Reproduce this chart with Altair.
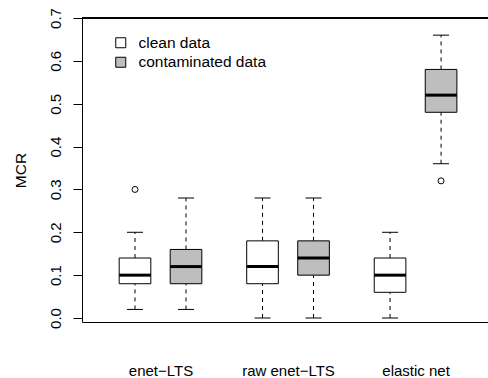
import altair as alt
import pandas as pd

# Box statistics per method and data condition (MCR)
methods = ["enet−LTS", "raw enet−LTS", "elastic net"]
conditions = ["clean data", "contaminated data"]
box_method = ["enet−LTS", "enet−LTS", "raw enet−LTS", "raw enet−LTS", "elastic net", "elastic net"]
box_condition = ["clean data", "contaminated data"] * 3
positions = [1, 2, 3.5, 4.5, 6, 7]
whisker_low = [0.02, 0.02, 0.00, 0.00, 0.00, 0.36]
q1 = [0.08, 0.08, 0.08, 0.10, 0.06, 0.48]
median = [0.10, 0.12, 0.12, 0.14, 0.10, 0.52]
q3 = [0.14, 0.16, 0.18, 0.18, 0.14, 0.58]
whisker_high = [0.20, 0.28, 0.28, 0.28, 0.20, 0.66]

outlier_pos = [1, 7]
outlier_val = [0.30, 0.32]

label_pos = [1.5, 4, 6.5]
y_ticks = [0.0, 0.1, 0.2, 0.3, 0.4, 0.5, 0.6, 0.7]

FONT = "Liberation Sans"
GRAY = "#bebebe"
BOX_HALF = 0.31
CAP_HALF = 0.157

df = pd.DataFrame({
    "method": box_method,
    "condition": box_condition,
    "pos": positions,
    "lo": whisker_low,
    "q1": q1,
    "med": median,
    "q3": q3,
    "hi": whisker_high,
})
df["xl"] = df["pos"] - BOX_HALF
df["xr"] = df["pos"] + BOX_HALF
df["cl"] = df["pos"] - CAP_HALF
df["cr"] = df["pos"] + CAP_HALF

out_df = pd.DataFrame({"pos": outlier_pos, "val": outlier_val})

label_expr = " : ".join(
    f"datum.value == {p} ? '{m}'" for p, m in zip(label_pos, methods)
) + " : ''"

xscale = alt.Scale(domain=[-0.039, 7.92], nice=False, zero=False)
yscale = alt.Scale(domain=[-0.0093, 0.7], nice=False, zero=False)

x_axis = alt.Axis(
    values=label_pos, labelExpr=label_expr, ticks=False, grid=False,
    domain=True, domainColor="black", domainWidth=1, title=None,
    labelFont=FONT, labelFontSize=15, labelColor="black",
    labelBaseline="alphabetic", labelPadding=53,
)
y_axis = alt.Axis(
    values=y_ticks, format=".1f", grid=False, domainColor="black",
    tickColor="black", tickSize=9, labelAngle=270, labelAlign="center",
    labelBaseline="alphabetic", labelPadding=13, labelFont=FONT,
    labelFontSize=15, labelColor="black", title="MCR", titleFont=FONT,
    titleFontSize=15.5, titleFontWeight="normal", titleColor="black",
    titleAngle=270, titleX=-62, titleBaseline="middle",
)

base = alt.Chart(df)

lower_whisker = base.mark_rule(color="black", strokeWidth=1, strokeDash=[4, 4]).encode(
    x=alt.X("pos:Q", scale=xscale, axis=x_axis),
    y=alt.Y("lo:Q", scale=yscale, axis=y_axis),
    y2="q1:Q",
)
upper_whisker = base.mark_rule(color="black", strokeWidth=1, strokeDash=[4, 4]).encode(
    x=alt.X("pos:Q", scale=xscale), y=alt.Y("q3:Q", scale=yscale), y2="hi:Q"
)
lower_cap = base.mark_rule(color="black", strokeWidth=1).encode(
    x=alt.X("cl:Q", scale=xscale), x2="cr:Q", y=alt.Y("lo:Q", scale=yscale)
)
upper_cap = base.mark_rule(color="black", strokeWidth=1).encode(
    x=alt.X("cl:Q", scale=xscale), x2="cr:Q", y=alt.Y("hi:Q", scale=yscale)
)
boxes = base.mark_rect(stroke="black", strokeWidth=1).encode(
    x=alt.X("xl:Q", scale=xscale), x2="xr:Q",
    y=alt.Y("q1:Q", scale=yscale), y2="q3:Q",
    fill=alt.Fill(
        "condition:N",
        scale=alt.Scale(domain=conditions, range=["white", GRAY]),
        legend=alt.Legend(
            title=None, orient="none", legendX=31, legendY=17,
            symbolType="square", symbolSize=100, symbolStrokeColor="black",
            symbolStrokeWidth=1, labelFont=FONT, labelFontSize=15.5,
            labelColor="black", labelOffset=10, rowPadding=2.5, padding=0,
        ),
    ),
)
medians = base.mark_rule(color="black", strokeWidth=3).encode(
    x=alt.X("xl:Q", scale=xscale), x2="xr:Q", y=alt.Y("med:Q", scale=yscale)
)
outliers = alt.Chart(out_df).mark_point(
    shape="circle", filled=False, size=36, color="black", strokeWidth=1, opacity=1
).encode(x=alt.X("pos:Q", scale=xscale), y=alt.Y("val:Q", scale=yscale))

top_frame = alt.Chart(df).mark_rule(color="black", strokeWidth=1).encode(
    x=alt.value(0), x2=alt.value(406), y=alt.value(0)
)

chart = alt.layer(
    lower_whisker, upper_whisker, lower_cap, upper_cap, boxes, medians, outliers, top_frame
).properties(
    width=406, height=304,
    autosize=alt.AutoSizeParams(type="none"),
    padding={"left": 82, "top": 18, "right": 0, "bottom": 56},
    background="white",
).configure_view(stroke=None)

chart.save("out.html", embed_options={"renderer": "svg", "actions": False})
